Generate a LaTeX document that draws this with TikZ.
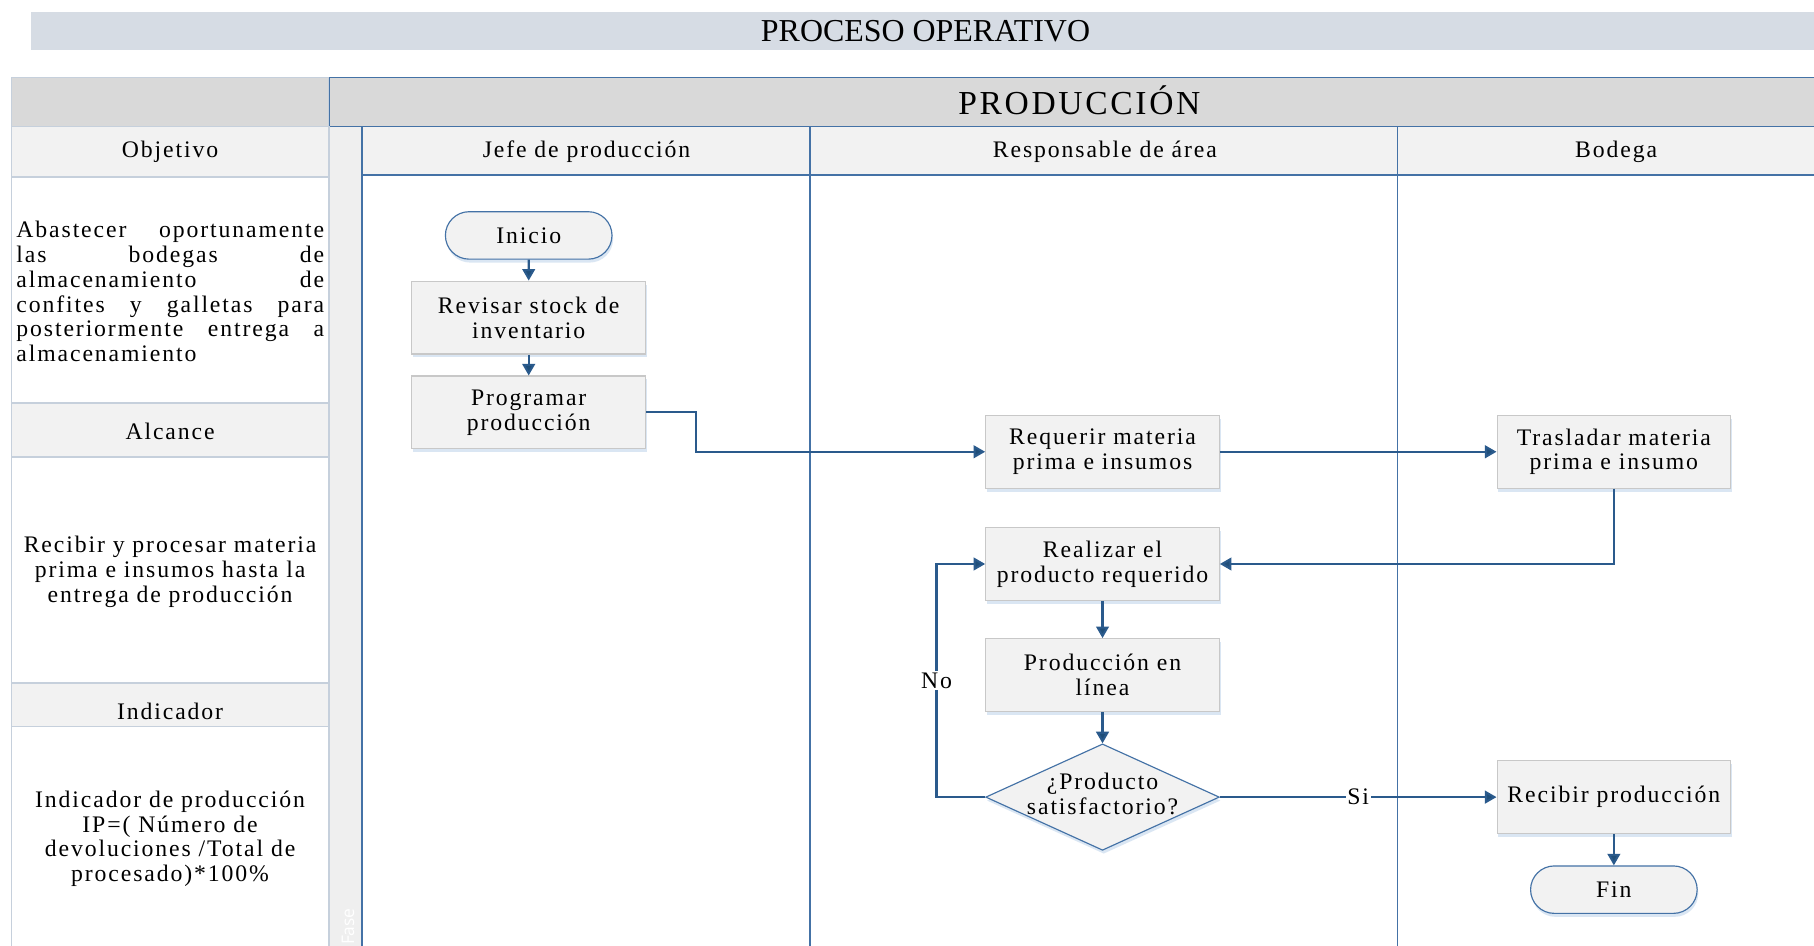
\documentclass[tikz,border=0pt]{standalone}
\usepackage{fontspec}
\setmainfont{Liberation Serif}
\newfontfamily\spaced[LetterSpace=8]{Liberation Serif}
\newfontfamily\phasefont{Open Sans}
\usetikzlibrary{shapes.geometric,shapes.misc,arrows.meta,shadows}

\definecolor{titlebg}{HTML}{D6DCE4}
\definecolor{headgray}{HTML}{D9D9D9}
\definecolor{lightfill}{HTML}{F2F2F2}
\definecolor{stripfill}{HTML}{EFEFEF}
\definecolor{laneblue}{HTML}{4472A6}
\definecolor{flowblue}{HTML}{2A5A8C}
\definecolor{tipblue}{HTML}{1F4E79}
\definecolor{boxline}{HTML}{C8C8C8}
\definecolor{leftline}{HTML}{C6D0DC}
\definecolor{shadowblue}{HTML}{BDD3EA}

\begin{document}
\begin{tikzpicture}[x=1pt,y=-1pt,
  txt/.style={font=\spaced\fontsize{20.5}{21.5}\selectfont, inner sep=0pt},
  proc/.style={rectangle, draw=boxline, line width=0.9pt, fill=lightfill,
    minimum width=202pt, minimum height=63pt, align=center, inner sep=2pt,
    font=\spaced\fontsize{20.5}{21.5}\selectfont,
    drop shadow={shadow xshift=1pt, shadow yshift=-3pt, fill=shadowblue, opacity=0.55}},
  term/.style={rounded rectangle, draw=laneblue, line width=1pt, fill=lightfill,
    minimum width=144pt, minimum height=41pt, inner sep=0pt,
    font=\spaced\fontsize{20.5}{21.5}\selectfont,
    drop shadow={shadow xshift=1pt, shadow yshift=-3pt, fill=shadowblue, opacity=0.55}},
  decision/.style={diamond, draw=laneblue, line width=1pt, fill=lightfill,
    minimum width=202pt, minimum height=92pt, inner sep=0pt,
    font=\spaced\fontsize{20.5}{21.5}\selectfont,
    drop shadow={shadow xshift=1pt, shadow yshift=-3pt, fill=shadowblue, opacity=0.55}},
  flow/.style={draw=flowblue, line width=1.8pt,
    -{Triangle[length=10pt,width=11pt,fill=tipblue]}},
  laneline/.style={draw=laneblue, line width=1.6pt},
  lbl/.style={fill=white, inner sep=1.5pt, font=\spaced\fontsize{20.5}{21.5}\selectfont},
  leftbox/.style={draw=leftline, line width=1pt}
]
\useasboundingbox (0,0) rectangle (1568,817);
\fill[white] (0,0) rectangle (1568,817);

% title band
\fill[titlebg] (27,10) rectangle (1600,43);
\node[font=\fontsize{27.6}{30}\selectfont, inner sep=0pt] (title) at (800,27) {PROCESO OPERATIVO};

% left information column
\filldraw[leftbox, fill=headgray] (10,67) rectangle (284,109);
\filldraw[leftbox, fill=lightfill] (10,109) rectangle (284,153);
\filldraw[leftbox, fill=white] (10,153) rectangle (284,348);
\filldraw[leftbox, fill=lightfill] (10,349) rectangle (284,395);
\filldraw[leftbox, fill=white] (10,395) rectangle (284,590);
\filldraw[leftbox, fill=lightfill] (10,591) rectangle (284,628);
\filldraw[leftbox, fill=white] (10,628) rectangle (284,830);

\node[txt] (hobj) at (147,131.5) {Objetivo};
\node[txt] (halc) at (147,373) {Alcance};
\node[txt] (hind) at (147,614.5) {Indicador};

\node[txt, anchor=west, align=left] (tobj) at (14,252) {%
  \makebox[266pt][s]{Abastecer oportunamente}\\
  \makebox[266pt][s]{las bodegas de}\\
  \makebox[266pt][s]{almacenamiento de}\\
  \makebox[266pt][s]{confites y galletas para}\\
  \makebox[266pt][s]{posteriormente entrega a}\\
  almacenamiento};
\node[txt, align=center] (talc) at (147,494) {Recibir y procesar materia\\prima e insumos hasta la\\entrega de producción};
\node[txt, align=center] (tind) at (147,725) {Indicador de producción\\IP=( Número de\\devoluciones /Total de\\procesado)*100\%};

% pool and lanes
\fill[stripfill] (285,109) rectangle (313,830);
\fill[lightfill] (313,109) rectangle (1600,151);
\filldraw[fill=headgray, draw=laneblue, line width=1pt] (285,67) rectangle (1600,109);
\draw[draw=leftline, line width=1pt] (285,109) -- (285,830);
\draw[laneline] (313,151) -- (1600,151);
\draw[laneline] (313,109) -- (313,830);
\draw[laneline] (700,109) -- (700,830);
\draw[laneline] (1208,109) -- (1208,830);

\node[font=\spaced\fontsize{29}{32}\selectfont, inner sep=0pt] (pool) at (933,87) {PRODUCCIÓN};
\node[txt] (lane1) at (507,131) {Jefe de producción};
\node[txt] (lane2) at (955,131) {Responsable de área};
\node[txt] (lane3) at (1397,131) {Bodega};
\node[font=\phasefont\fontsize{15}{18}\selectfont, text=white, rotate=90,
  anchor=base west, inner sep=0pt] (phase) at (306,817) {Fase};

% flow steps
\node[term] (ini) at (457,203.5) {Inicio};
\node[proc] (rev) at (457,274.5) {Revisar stock de\\inventario};
\node[proc] (prog) at (457,356.5) {Programar\\producción};
\node[proc] (req) at (953,390.5) {Requerir materia\\prima e insumos};
\node[proc] (tras) at (1395,390.5) {Trasladar materia\\prima e insumo};
\node[proc] (real) at (953,487.5) {Realizar el\\producto requerido};
\node[proc] (lin) at (953,583.5) {Producción en\\línea};
\node[decision] (dec) at (953,689) {\vbox to 0pt{\vss\hbox to 0pt{\hss
  \begin{tabular}{@{}c@{}}¿Producto\\satisfactorio?\end{tabular}\hss}\vss}};
\node[proc] (rec) at (1395,689) {Recibir producción};
\node[term] (fin) at (1395,769) {Fin};

% connectors
\draw[flow] (ini) -- (rev);
\draw[flow] (rev) -- (prog);
\draw[flow] (prog.east) -- ++(43,0) |- (req.west);
\draw[flow] (req) -- (tras);
\draw[flow] (tras.south) |- (real.east);
\draw[flow] (real) -- (lin);
\draw[flow] (lin) -- (dec);
\draw[flow] (dec.west) -- ++(-42,0) |- node[lbl, pos=0.25] {No} (real.west);
\draw[flow] (dec.east) -- node[lbl] {Si} (rec.west);
\draw[flow] (rec) -- (fin);
\end{tikzpicture}
\end{document}
